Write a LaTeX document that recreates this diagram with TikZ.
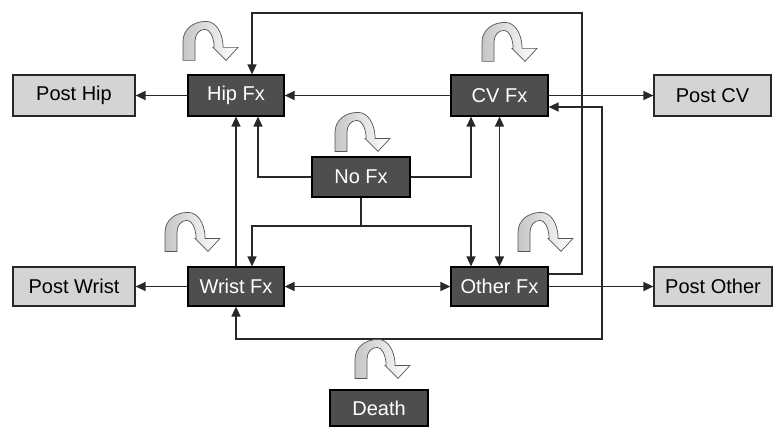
\documentclass[tikz,border=0pt]{standalone}
\usepackage{fontspec}
\setmainfont{Liberation Sans}
\usetikzlibrary{arrows.meta,calc}
\definecolor{darkbox}{RGB}{78,78,78}
\definecolor{lightbox}{RGB}{212,212,212}
\definecolor{linec}{RGB}{40,40,40}
\definecolor{loopline}{RGB}{85,85,85}
\begin{document}
\begin{tikzpicture}[x=1pt,y=-1pt,
  statebox/.style={draw=black,line width=1.2pt,fill=darkbox,text=white,inner sep=0pt,
    font=\fontsize{20}{22}\selectfont},
  postbox/.style={draw=linec,line width=1.2pt,fill=lightbox,text=black,inner sep=0pt,
    font=\fontsize{20}{22}\selectfont},
  arr/.style={draw=linec,line width=1.4pt,-{Triangle[length=10pt,width=9pt]}},
  darr/.style={draw=linec,line width=1.4pt,{Triangle[length=10pt,width=9pt]}-{Triangle[length=10pt,width=9pt]}},
  plain/.style={draw=linec,line width=1.4pt},
  selfloop/.pic={
    \path[draw=loopline,line width=0.7pt,left color=gray!45,middle color=white!85!gray,right color=white,shading angle=90]
      (0,0) -- (0,-19) .. controls (0,-31) and (10,-39) .. (23,-39)
      .. controls (33,-39) and (39,-28) .. (40,-16) -- (40,-13) -- (55,-13) -- (43,0)
      -- (30,-13) -- (31,-13) -- (31,-16) .. controls (30,-24) and (27,-31) .. (22,-31)
      .. controls (16,-31) and (12,-26) .. (12,-19) -- (12,0) -- cycle;
  }]
\useasboundingbox[fill=white] (0,0) rectangle (773,428);

\node[postbox,minimum width=122pt,minimum height=41pt] (posthip) at (74,95.5) {Post Hip};
\node[statebox,minimum width=96pt,minimum height=41pt] (hip) at (236,95.5) {Hip Fx};
\node[statebox,minimum width=97pt,minimum height=41pt] (cv) at (499.5,95.5) {CV Fx};
\node[postbox,minimum width=117pt,minimum height=41pt] (postcv) at (712.5,95.5) {Post CV};
\node[statebox,minimum width=98pt,minimum height=40pt] (nofx) at (361,177) {No Fx};
\node[postbox,minimum width=122pt,minimum height=39pt] (postwrist) at (74,286.5) {Post Wrist};
\node[statebox,minimum width=96pt,minimum height=39pt] (wrist) at (236,286.5) {Wrist Fx};
\node[statebox,minimum width=97pt,minimum height=39pt] (other) at (499.5,286.5) {Other Fx};
\node[postbox,minimum width=118pt,minimum height=39pt] (postother) at (713,286.5) {Post Other};
\node[statebox,minimum width=98pt,minimum height=36pt] (death) at (379,408) {Death};

\coordinate (topright) at (582,13);
\coordinate (lowright) at (602,339);
\coordinate (split) at (361,226);

% connectors
\draw[arr] ([yshift=12.5pt]other.east) -| (topright) -| ([xshift=16pt]hip.north);
\draw[arr] (cv.west) -- (hip.east);
\draw[arr] (hip.west) -- (posthip.east);
\draw[arr] (nofx.west) -| ([xshift=22pt]hip.south);
\draw[arr] (wrist.north) -- (hip.south);
\draw[arr] (nofx.east) -| ([xshift=-28.5pt]cv.south);
\draw[darr] (other.north) -- (cv.south);
\draw[arr] (cv.east) -- (postcv.west);
\draw[darr] ([yshift=-11.5pt]cv.east) -| (lowright) -| (wrist.south);
\draw[plain] (nofx.south) -- (split);
\draw[arr] (split) -| ([xshift=16pt]wrist.north);
\draw[arr] (split) -| ([xshift=-28.5pt]other.north);
\draw[darr] (wrist.east) -- (other.west);
\draw[arr] (wrist.west) -- (postwrist.east);
\draw[arr] (other.east) -- (postother.west);

% self loops
\pic at ($(hip.north)+(-53,-14)$) {selfloop};
\pic at ($(nofx.north)+(-26,-5)$) {selfloop};
\pic at ($(cv.north)+(-17.5,-13)$) {selfloop};
\pic at ($(wrist.north)+(-71,-15)$) {selfloop};
\pic at ($(other.north)+(18.5,-15)$) {selfloop};
\pic at ($(death.north)+(-24,-11)$) {selfloop};
\end{tikzpicture}
\end{document}
